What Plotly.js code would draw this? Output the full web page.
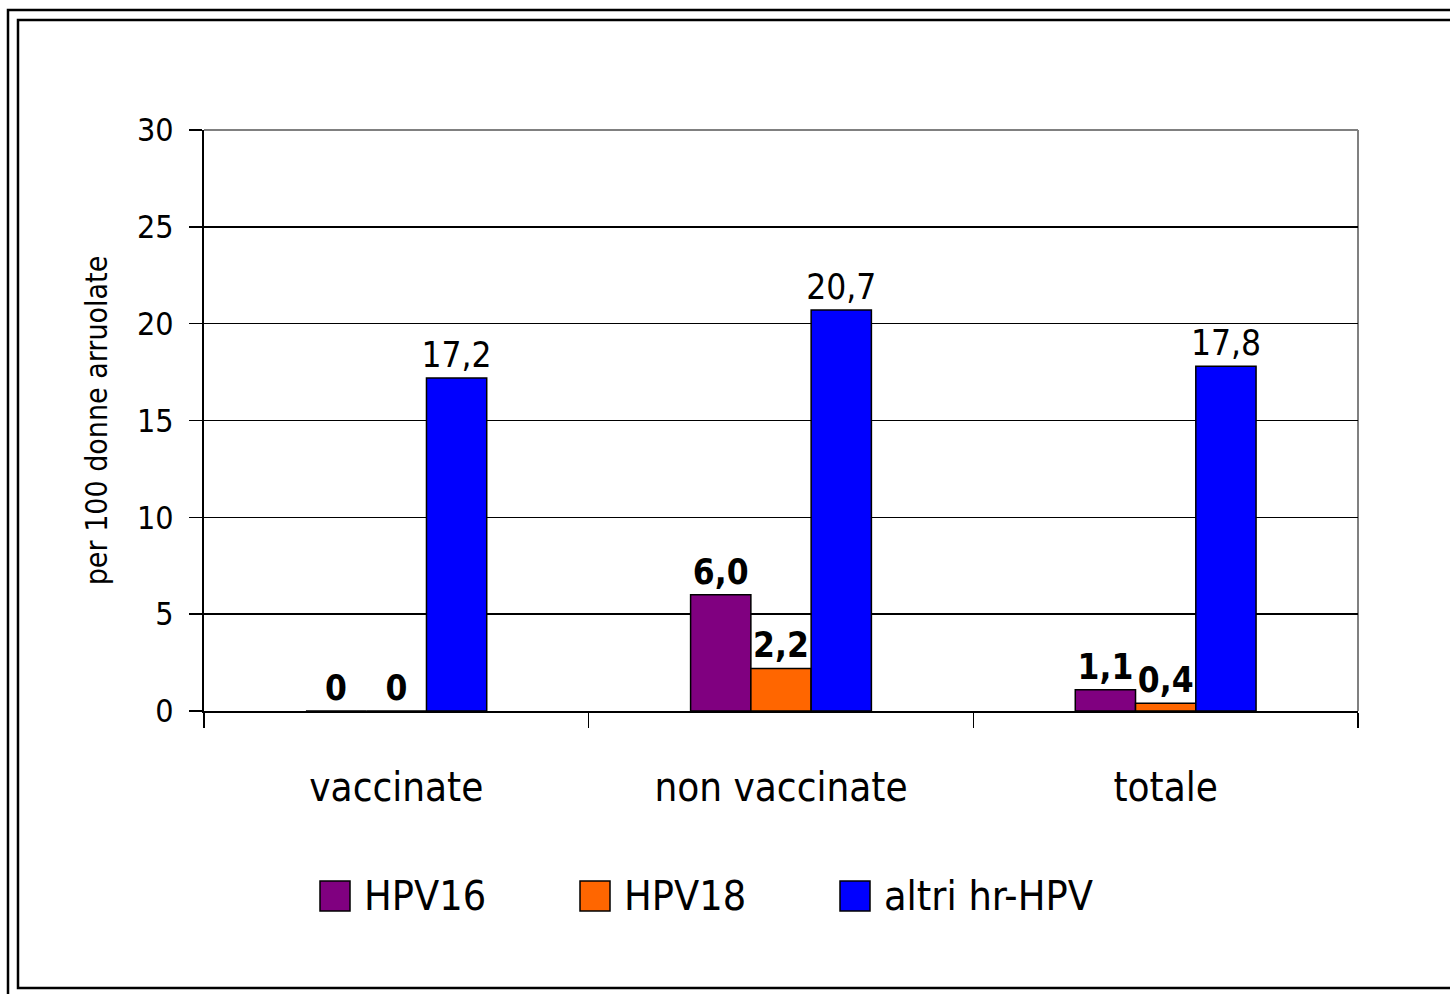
<!DOCTYPE html>
<html>
<head>
<meta charset="utf-8">
<script src="https://cdn.plot.ly/plotly-3.0.1.min.js"></script>
<style>
  body { margin: 0; background: #fff; }
  #chart { width: 1450px; height: 994px; }
</style>
</head>
<body>
<div id="chart"></div>
<script>
// DATA
var categories = ['vaccinate', 'non vaccinate', 'totale'];
var seriesNames = ['HPV16', 'HPV18', 'altri hr-HPV'];
var hpv16 = [0, 6.0, 1.1];
var hpv18 = [0, 2.2, 0.4];
var altri = [17.2, 20.7, 17.8];
var colors = ['#800080', '#FF6600', '#0000FF'];
var yTicks = [0, 5, 10, 15, 20, 25, 30];

var FONT = '"DejaVu Sans Condensed", "Liberation Sans Narrow", "Arial Narrow", sans-serif';

// italian style labels: 6,0 / 0
function lab(v) {
  return v === 0 ? '0' : v.toFixed(1).replace('.', ',');
}

CHART = document.getElementById('chart');

var values = [hpv16, hpv18, altri];
var data = values.map(function (vals, i) {
  return {
    x: categories,
    y: vals,
    name: seriesNames[i],
    type: 'bar',
    marker: {color: colors[i], line: {color: '#000', width: 1.5}},
    text: vals.map(lab),
    textposition: 'outside',
    constraintext: 'none',
    cliponaxis: false,
    textfont: {family: FONT, size: 35, color: '#000', weight: i < 2 ? 'bold' : 'normal'},
    showlegend: false
  };
});

// plot area in pixels
var L = 204, R = 1358, T = 130, B = 711;
function px(x) { return (x - L) / (R - L); }
function py(y) { return (B - y) / (B - T); }

var shapes = [
  // outer & inner frame
  {type: 'rect', xref: 'paper', yref: 'paper', x0: px(8), x1: px(1470), y0: py(1010), y1: py(10), line: {color: '#000', width: 2.5}},
  {type: 'rect', xref: 'paper', yref: 'paper', x0: px(18), x1: px(1460), y0: py(988), y1: py(20), line: {color: '#000', width: 2.5}},
  // plot border, top and right grey
  {type: 'line', xref: 'paper', yref: 'paper', x0: 0, x1: 1, y0: 1, y1: 1, line: {color: '#808080', width: 2}, layer: 'below'},
  {type: 'line', xref: 'paper', yref: 'paper', x0: 1, x1: 1, y0: 0, y1: 1, line: {color: '#808080', width: 2}, layer: 'below'}
];

// legend drawn by hand (Excel style big swatches)
var legX = [320, 580, 840];
var annotations = [];
seriesNames.forEach(function (n, i) {
  shapes.push({type: 'rect', xref: 'paper', yref: 'paper',
    x0: px(legX[i]), x1: px(legX[i] + 30), y0: py(911), y1: py(881),
    fillcolor: colors[i], line: {color: '#000', width: 1.5}});
  annotations.push({xref: 'paper', yref: 'paper', x: px(legX[i] + 42), y: py(896),
    xanchor: 'left', yanchor: 'middle', text: n, showarrow: false,
    font: {family: FONT, size: 41, color: '#000'}});
});

var layout = {
  width: 1450,
  height: 994,
  margin: {l: L, r: 1450 - R, t: T, b: 994 - B},
  paper_bgcolor: '#fff',
  plot_bgcolor: '#fff',
  barmode: 'group',
  bargap: 0.53,
  bargroupgap: 0,
  font: {family: FONT, color: '#000'},
  showlegend: false,
  xaxis: {
    type: 'category',
    tickson: 'boundaries',
    ticks: 'outside',
    ticklen: 15,
    tickwidth: 1.5,
    tickcolor: '#000',
    showline: true,
    linecolor: '#000',
    linewidth: 2,
    tickfont: {family: FONT, size: 40, color: '#000'},
    ticklabelstandoff: 40,
    showgrid: false,
    zeroline: false
  },
  yaxis: {
    range: [0, 30],
    tickvals: yTicks,
    ticks: 'outside',
    ticklen: 13,
    tickwidth: 1.5,
    tickcolor: '#000',
    showline: true,
    linecolor: '#000',
    linewidth: 2,
    showgrid: true,
    gridcolor: '#000',
    gridwidth: 1.5,
    zeroline: false,
    tickfont: {family: FONT, size: 32, color: '#000'},
    ticklabelstandoff: 9,
    title: {text: 'per 100 donne arruolate', font: {family: FONT, size: 30, color: '#000'}, standoff: 20}
  },
  shapes: shapes,
  annotations: annotations
};

Plotly.newPlot(CHART, data, layout, {displayModeBar: false, staticPlot: true});
</script>
</body>
</html>
